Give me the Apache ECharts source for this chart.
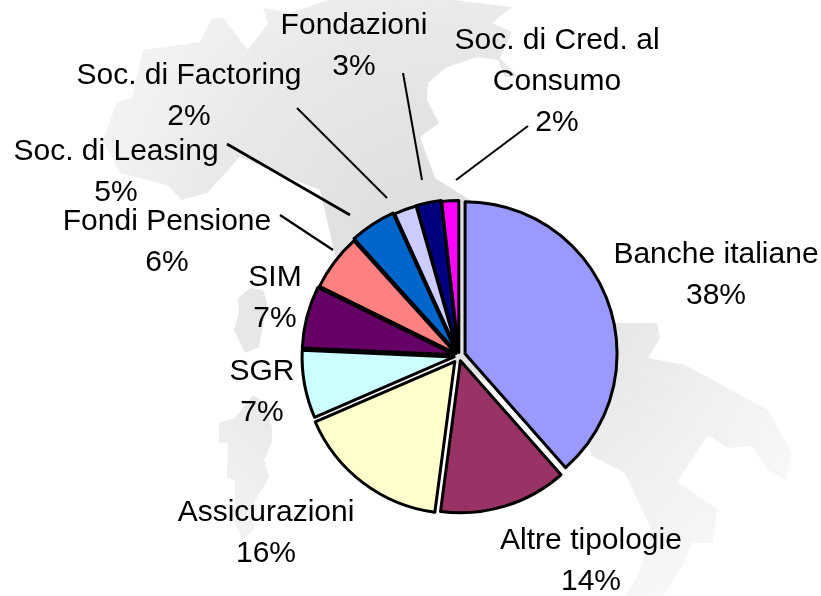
<!DOCTYPE html>
<html>
<head>
<meta charset="utf-8">
<style>html,body{margin:0;padding:0;background:#fff}#c{width:821px;height:596px}</style>
<script src="https://cdn.jsdelivr.net/npm/echarts@6/dist/echarts.min.js"></script>
</head>
<body>
<div id="c"></div>
<script>
const categories = ['Banche italiane','Altre tipologie','Assicurazioni','SGR','SIM','Fondi Pensione','Soc. di Leasing','Soc. di Factoring','Fondazioni','Soc. di Cred. al\nConsumo'];
const shares = [38.49,13.6,16.4,7.2,6.6,6.0,4.9,2.4,2.6,1.8];
const colors = ['#9999ff','#993366','#ffffcc','#ccffff','#660066','#ff8080','#0066cc','#ccccff','#000080','#ff00ff'];
const explode = [6.5,5,7,5,5,4,5.5,4,4.5,3.5];
const labelCenters = [[716,275],[591,561],[266,533],[262,392],[275,298],[167,242],[116,172],[189,96],[354,46],[557,82]];

const leaders = [[[297,108],[387,198],2],[[227,144],[350,215],2.6],[[280,215],[333,250],2.2],[[403,73],[422,180],2],[[528,126],[456,180],2]];
const mainland = [[335,255],[320,190],[240,157],[207,193],[182,200],[167,185],[120,173],[103,140],[117,102],[132,98],[143,50],[200,42],[212,18],[223,18],[248,50],[268,23],[263,8],[290,13],[328,0],[453,0],[512,7],[492,23],[512,32],[500,58],[518,77],[505,77],[498,60],[477,57],[445,68],[428,83],[427,100],[439,123],[420,137],[435,178],[473,202],[560,250],[615,323],[657,323],[660,338],[648,358],[685,365],[768,410],[792,453],[785,480],[768,470],[752,446],[728,448],[708,435],[677,482],[717,509],[713,543],[692,543],[683,565],[663,596],[625,596],[640,572],[652,530],[625,473],[592,456],[588,443],[450,360]];
const corsica = [[250,288],[238,298],[239,313],[234,330],[245,353],[259,347],[267,303],[263,290]];
const sardinia = [[253,395],[235,418],[219,423],[219,443],[228,443],[227,478],[235,480],[235,500],[231,515],[243,540],[254,528],[254,503],[269,477],[264,460],[272,442],[272,427],[263,402]];

const mapFill = {type:'radial',x:430,y:250,r:430,global:true,colorStops:[{offset:0,color:'#dcdcdc'},{offset:0.5,color:'#e8e8e8'},{offset:0.75,color:'#f1f1f1'},{offset:1,color:'#f8f8f8'}]};
const graphic = [mainland,corsica,sardinia].map(points=>({type:'polygon',z:-1,silent:true,shape:{points},style:{fill:mapFill}}));
leaders.forEach(l=>graphic.push({type:'line',z:100,silent:true,shape:{x1:l[0][0],y1:l[0][1],x2:l[1][0],y2:l[1][1]},style:{stroke:'#000',lineWidth:l[2]}}));
categories.forEach((name,i)=>graphic.push({type:'text',z:101,silent:true,x:labelCenters[i][0],y:labelCenters[i][1],
  style:{text:name+'\n'+Math.round(shares[i])+'%',fill:'#000',fontFamily:'Liberation Sans',fontSize:30,lineHeight:41,align:'center',verticalAlign:'middle'}}));

const series = categories.map((name,i)=>({
  type:'pie',
  radius:[0,152],
  center:[459,356],
  startAngle:90,
  clockwise:true,
  animation:false,
  silent:true,
  selectedMode:'multiple',
  selectedOffset:explode[i],
  avoidLabelOverlap:false,
  label:{show:false},
  labelLine:{show:false},
  emphasis:{disabled:true},
  data:categories.map((n,j)=>({
    name:n,value:shares[j],selected:j===i,
    itemStyle:j===i?{color:colors[j],borderColor:'#000',borderWidth:3}:{color:'rgba(0,0,0,0)',borderWidth:0}
  }))
}));

echarts.init(document.getElementById('c'),null,{renderer:'canvas'}).setOption({
  backgroundColor:'#fff',animation:false,graphic,series
});
</script>
</body>
</html>
